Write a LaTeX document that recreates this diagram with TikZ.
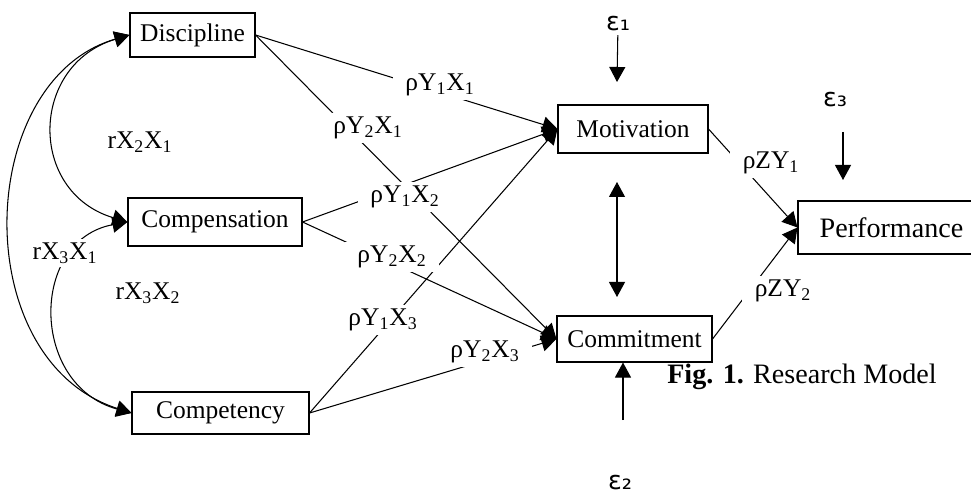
\documentclass[tikz,border=0pt]{standalone}
\usepackage{fontspec}
\setmainfont{Liberation Serif}
\newfontfamily\epsfont{DejaVu Sans}
\usetikzlibrary{arrows.meta}

\begin{document}
\begin{tikzpicture}[
    x=0.2mm, y=-0.2mm,
    boxnode/.style={rectangle, draw=black, line width=0.6pt, inner sep=0pt, font=\fontsize{14.5}{16}\selectfont},
    coefnode/.style={fill=white, inner xsep=7pt, inner ysep=2pt, font=\fontsize{14.5}{16}\selectfont},
    errnode/.style={inner sep=2pt, font=\epsfont\fontsize{14.5}{16}\selectfont},
    pathline/.style={line width=0.6pt, -{Triangle[length=3mm, width=3.2mm]}},
    bothline/.style={line width=0.6pt, {Triangle[length=3mm, width=3.2mm]}-{Triangle[length=3mm, width=3.2mm]}},
]

    \useasboundingbox (0, 0) rectangle (971, 496);
    \clip (0, 0) rectangle (971, 496);

    % the boxes: name/centre x/centre y/width/height/text
    \foreach \name/\cx/\cy/\w/\h/\txt in {
    disc/192.5/35/125/44/Discipline,
    comp/215/222/174/48/Compensation,
    compet/220.5/413/177/42/Competency,
    motiv/633/129/150/48/Motivation,
    commit/634.5/339/155/46/Commitment}
    {
        \node [boxnode, minimum width=\w*0.2mm, minimum height=\h*0.2mm] at (\cx, \cy) (\name){\txt};
    }

    % the last box runs out of the picture on the right
    \node [boxnode, minimum width=187*0.2mm, minimum height=53*0.2mm, font=\fontsize{16}{18}\selectfont] at (891.5, 227.5) (perf){Performance};

    % paths from X to Y and from Y to Z
    \foreach \src/\dst in {
    disc/motiv,
    disc/commit,
    comp/motiv,
    comp/commit,
    compet/motiv,
    compet/commit,
    motiv/perf,
    commit/perf}
    {
        \draw [pathline] (\src.east) -- (\dst.west) ;
    }

    % correlations between the X boxes
    \draw [bothline] (disc.west) .. controls +(-100, 30) and +(-100, -30) .. (comp.west) ;
    \draw [bothline] (disc.west) .. controls +(-155, 45) and +(-165, -53) .. (compet.west) ;
    \draw [bothline] (comp.west) .. controls +(-98, 18) and +(-102, -28) .. (compet.west) ;

    % Motivation <-> Commitment
    \coordinate (mtop) at (617, 182);
    \coordinate (cbot) at (617, 297);
    \draw [bothline] (mtop) -- (cbot) ;

    % error terms
    \node [errnode] at (618, 24) (e1){ε₁};
    \node [errnode] at (620, 483) (e2){ε₂};
    \node [errnode] at (835, 100) (e3){ε₃};
    \coordinate (e1tip) at (617, 82);
    \coordinate (e2tail) at (623, 420);
    \coordinate (e3top) at (843, 132);
    \coordinate (e3tip) at (843, 180);
    \draw [pathline] (e1) -- (e1tip) ;
    \draw [pathline] (e2tail) -- (e2tail |- commit.south) ;
    \draw [pathline] (e3top) -- (e3tip) ;

    % coefficients: name/centre x/centre y/text
    \foreach \name/\cx/\cy/\txt in {
    y1x1/440/85/{ρY\textsubscript{1}X\textsubscript{1}},
    y2x1/368/128/{ρY\textsubscript{2}X\textsubscript{1}},
    y1x2/405/197/{ρY\textsubscript{1}X\textsubscript{2}},
    y2x2/392/257/{ρY\textsubscript{2}X\textsubscript{2}},
    y1x3/383/320/{ρY\textsubscript{1}X\textsubscript{3}},
    y2x3/485/352/{ρY\textsubscript{2}X\textsubscript{3}},
    zy1/771/163/{ρZY\textsubscript{1}},
    zy2/783/291/{ρZY\textsubscript{2}},
    x2x1/140/142/{rX\textsubscript{2}X\textsubscript{1}},
    x3x1/65/253/{rX\textsubscript{3}X\textsubscript{1}},
    x3x2/148/293/{rX\textsubscript{3}X\textsubscript{2}}}
    {
        \node [coefnode] at (\cx, \cy) (\name){\txt};
    }

    % caption
    \node [font=\fontsize{16}{18}\selectfont] at (802, 377) (caption){\textbf{Fig. 1.} Research Model};

\end{tikzpicture}
\end{document}
